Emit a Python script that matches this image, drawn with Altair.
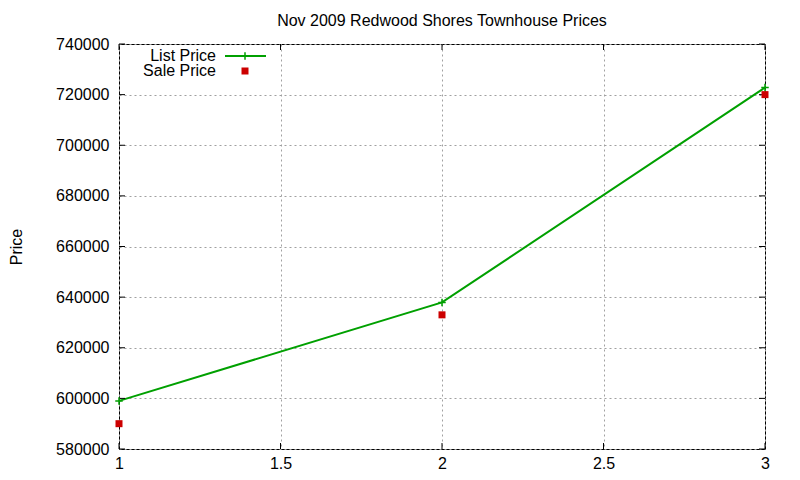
import altair as alt
import pandas as pd

FONT = "Liberation Sans"
GREEN = "#00a000"
RED = "#cc0000"
W, H = 646, 405

x_values = [1, 2, 3]
list_price = [599000, 637900, 722800]
sale_price = [590000, 633000, 720000]
x_ticks = [1, 1.5, 2, 2.5, 3]
y_ticks = [580000, 600000, 620000, 640000, 660000, 680000, 700000, 720000, 740000]

df = pd.DataFrame({"x": x_values, "list": list_price, "sale": sale_price})
xt = pd.DataFrame({"x": x_ticks})
yt = pd.DataFrame({"list": y_ticks})

x_scale = alt.Scale(domain=[1, 3], nice=False, zero=False)
y_scale = alt.Scale(domain=[580000, 740000], nice=False, zero=False)

x_axis = alt.Axis(
    values=x_ticks,
    labelExpr="datum.value",
    labelFlush=False,
    ticks=False,
    labelPadding=6,
    grid=True,
    gridColor="#a0a0a0",
    gridDash=[2, 3],
    domain=False,
)
y_axis = alt.Axis(
    values=y_ticks,
    format="d",
    labelFlush=False,
    ticks=False,
    labelPadding=10,
    grid=True,
    gridColor="#a0a0a0",
    gridDash=[2, 3],
    domain=False,
    titleX=-103,
    titleY=H / 2,
    titleAlign="center",
    titleBaseline="middle",
)


def xenc():
    return alt.X("x:Q", scale=x_scale, axis=x_axis).title(None)


def yenc(field="list"):
    return alt.Y(f"{field}:Q", scale=y_scale, axis=y_axis).title("Price")


PLUS = "M-1,0L1,0M0,-1L0,1"

base = alt.Chart(df)

line = base.mark_line(color=GREEN, strokeWidth=2).encode(x=xenc(), y=yenc())

plus_pts = base.mark_point(
    shape=PLUS, size=56, color=GREEN, strokeWidth=1.5, filled=False, opacity=1
).encode(x=xenc(), y=yenc())

sale_pts = base.mark_square(size=49, color=RED, opacity=1).encode(x=xenc(), y=yenc("sale"))

# inward ticks on all four sides, like gnuplot's mirrored tics
tick_top = alt.Chart(xt).mark_rule(color="black").encode(x=xenc(), y=alt.value(0), y2=alt.value(6))
tick_bottom = alt.Chart(xt).mark_rule(color="black").encode(x=xenc(), y=alt.value(H - 6), y2=alt.value(H))
tick_left = alt.Chart(yt).mark_rule(color="black").encode(y=yenc(), x=alt.value(0), x2=alt.value(6))
tick_right = alt.Chart(yt).mark_rule(color="black").encode(y=yenc(), x=alt.value(W - 6), x2=alt.value(W))

# key in the top-left corner, text left of the sample
key_text_list = alt.Chart(pd.DataFrame({"t": ["List Price"]})).mark_text(
    align="right", baseline="middle", font=FONT, fontSize=16
).encode(text="t:N", x=alt.value(97), y=alt.value(12))
key_text_sale = alt.Chart(pd.DataFrame({"t": ["Sale Price"]})).mark_text(
    align="right", baseline="middle", font=FONT, fontSize=16
).encode(text="t:N", x=alt.value(97), y=alt.value(27))
key_line = alt.Chart(pd.DataFrame({"a": [0]})).mark_rule(color=GREEN, strokeWidth=2).encode(
    x=alt.value(106), x2=alt.value(147), y=alt.value(12)
)
key_plus = alt.Chart(pd.DataFrame({"a": [0]})).mark_point(
    shape=PLUS, size=56, color=GREEN, strokeWidth=1.5, filled=False, opacity=1
).encode(x=alt.value(126), y=alt.value(12))
key_square = alt.Chart(pd.DataFrame({"a": [0]})).mark_square(size=49, color=RED, opacity=1).encode(
    x=alt.value(126), y=alt.value(27)
)

chart = (
    alt.layer(
        line, tick_top, tick_bottom, tick_left, tick_right,
        plus_pts, sale_pts,
        key_text_list, key_text_sale, key_line, key_plus, key_square,
    )
    .properties(
        width=W,
        height=H,
        background="white",
        title=alt.Title(
            "Nov 2009 Redwood Shores Townhouse Prices",
            fontSize=16, fontWeight="normal", font=FONT, offset=7,
        ),
        autosize=alt.AutoSizeParams(type="none"),
        padding={"left": 111, "top": 36, "right": 27, "bottom": 23},
    )
    .configure_view(stroke="black", strokeWidth=1)
    .configure_axis(
        labelFont=FONT, labelFontSize=16, labelColor="black",
        titleFont=FONT, titleFontSize=16, titleFontWeight="normal", titleColor="black",
    )
)

chart.save("out.html", embed_options={"renderer": "svg", "actions": False})
